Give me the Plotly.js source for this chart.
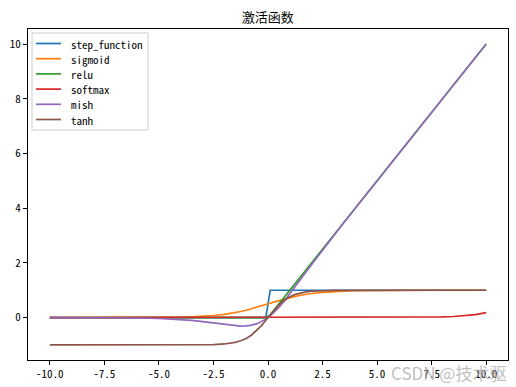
<!DOCTYPE html>
<html>
<head>
<meta charset="utf-8">
<script src="https://cdn.plot.ly/plotly-3.0.1.min.js"></script>
<style>html,body{margin:0;padding:0;background:#fff;}#chart{width:516px;height:387px;}</style>
</head>
<body>
<div id="chart"></div>
<script>
var xs = [-10,-9,-8,-7,-6,-5,-4.5,-4,-3.5,-3,-2.5,-2,-1.75,-1.5,-1.25,-1,-0.75,-0.5,-0.3,-0.1,
          0.1,0.3,0.5,0.75,1,1.25,1.5,1.75,2,2.5,3,3.5,4,4.5,5,6,7,8,8.5,9,9.5,10];
var stepFunction = [0,0,0,0,0,0,0,0,0,0,0,0,0,0,0,0,0,0,0,0,
                    1,1,1,1,1,1,1,1,1,1,1,1,1,1,1,1,1,1,1,1,1,1];
var sigmoid = [0.00005,0.00012,0.00034,0.00091,0.00247,0.00669,0.0110,0.0180,0.0293,0.0474,0.0759,0.1192,0.1480,0.1824,0.2227,0.2689,0.3208,0.3775,0.4256,0.4750,
               0.5250,0.5744,0.6225,0.6792,0.7311,0.7773,0.8176,0.8520,0.8808,0.9241,0.9526,0.9707,0.9820,0.9890,0.9933,0.9975,0.9991,0.9997,0.9998,0.9999,0.9999,1.0];
var relu = [0,0,0,0,0,0,0,0,0,0,0,0,0,0,0,0,0,0,0,0,
            0.1,0.3,0.5,0.75,1,1.25,1.5,1.75,2,2.5,3,3.5,4,4.5,5,6,7,8,8.5,9,9.5,10];
var softmax = [0,0,0,0,0,0,0,0,0,0,0,0,0,0,0,0,0,0,0,0,
               0,0,0,0,0,0,0,0,0.00006,0.0001,0.00017,0.00028,0.00045,0.00075,0.00123,0.00335,0.0091,0.0248,0.0408,0.0673,0.111,0.183];
var mish = [-0.00045,-0.00111,-0.00268,-0.00638,-0.01486,-0.03357,-0.04972,-0.07259,-0.1041,-0.14565,-0.1968,-0.2525,-0.2780,-0.2981,-0.3085,-0.3034,-0.2765,-0.2207,-0.1512,-0.0568,
            0.0632,0.2080,0.3752,0.6098,0.8651,1.1318,1.4032,1.6747,1.9431,2.4716,2.9865,3.4940,3.9974,4.4989,4.9996,6.0,7.0,8.0,8.5,9.0,9.5,10.0];
var tanhVals = [-1,-1,-1,-1,-0.99999,-0.99991,-0.99975,-0.99933,-0.99818,-0.99505,-0.98661,-0.96403,-0.94138,-0.90515,-0.84828,-0.76159,-0.63515,-0.46212,-0.29131,-0.09967,
                0.09967,0.29131,0.46212,0.63515,0.76159,0.84828,0.90515,0.94138,0.96403,0.98661,0.99505,0.99818,0.99933,0.99975,0.99991,0.99999,1,1,1,1,1,1];

var seriesNames = ['step_function','sigmoid','relu','softmax','mish','tanh'];
var seriesValues = [stepFunction, sigmoid, relu, softmax, mish, tanhVals];
var colors = ['#1f77b4','#ff7f0e','#2ca02c','#d62728','#9467bd','#8c564b'];

var xTickVals = [-10,-7.5,-5,-2.5,0,2.5,5,7.5,10];
var xTickText = ['-10.0','-7.5','-5.0','-2.5','0.0','2.5','5.0','7.5','10.0'];
var yTickVals = [0,2,4,6,8,10];
var yTickText = ['0','2','4','6','8','10'];

var monoFont = '"Noto Sans Mono CJK SC","Noto Sans CJK SC","DejaVu Sans Mono",monospace';
var tickFont = {family: monoFont, size:11, color:'#000'};

var traces = seriesNames.map(function(n,i){
  return {x: xs, y: seriesValues[i], name: n, type:'scatter', mode:'lines',
          line:{color: colors[i], width:1.7}};
});

var axisCommon = {showgrid:false, zeroline:false, showline:true, linecolor:'#000', linewidth:1,
  mirror:true, ticks:'outside', ticklen:4, tickwidth:1, tickcolor:'#000', tickfont: tickFont, tickmode:'array'};

// plot area in pixels (for legend placement)
var M = {l:28, r:8, t:29, b:27};
var W = 516, H = 387;
var pw = W - M.l - M.r, ph = H - M.t - M.b;
function px(x){ return (x - M.l) / pw; }
function py(y){ return (H - M.b - y) / ph; }

var shapes = [{type:'rect', xref:'paper', yref:'paper', x0:px(32), x1:px(148), y0:py(130), y1:py(33),
  line:{color:'#cccccc', width:1}, fillcolor:'rgba(255,255,255,0.8)', layer:'above'}];
var annotations = [];
seriesNames.forEach(function(n,i){
  var yy = 43.5 + 15.2*i;
  shapes.push({type:'line', xref:'paper', yref:'paper', x0:px(36), x1:px(61), y0:py(yy), y1:py(yy),
    line:{color: colors[i], width:1.7}, layer:'above'});
  annotations.push({text:n, xref:'paper', yref:'paper', x:px(69), y:py(yy), xanchor:'left', yanchor:'middle',
    showarrow:false, font:tickFont, xshift:0});
});
annotations.push({text:'CSDN @技术驱', xref:'paper', yref:'paper', x:1.0, y:py(372), xanchor:'right', yanchor:'middle',
    showarrow:false, font:{family:'"Noto Sans CJK SC",sans-serif', size:17, color:'rgba(170,170,170,0.75)'}});

var layout = {
  width:W, height:H,
  margin:{l:M.l, r:M.r, t:M.t, b:M.b, pad:0},
  paper_bgcolor:'#fff', plot_bgcolor:'#fff',
  title:{text:'激活函数', font:{family:'"Noto Sans CJK SC",sans-serif', size:13, color:'#000'},
         x:0.519, xanchor:'center', xref:'container', y:1-17/387, yref:'container', yanchor:'middle'},
  xaxis: Object.assign({}, axisCommon, {range:[-11,11], tickvals:xTickVals, ticktext:xTickText}),
  yaxis: Object.assign({}, axisCommon, {range:[-1.55,10.55], tickvals:yTickVals, ticktext:yTickText}),
  showlegend:false,
  shapes: shapes,
  annotations: annotations
};

Plotly.newPlot('chart', traces, layout, {staticPlot:true, displayModeBar:false});
</script>
</body>
</html>
